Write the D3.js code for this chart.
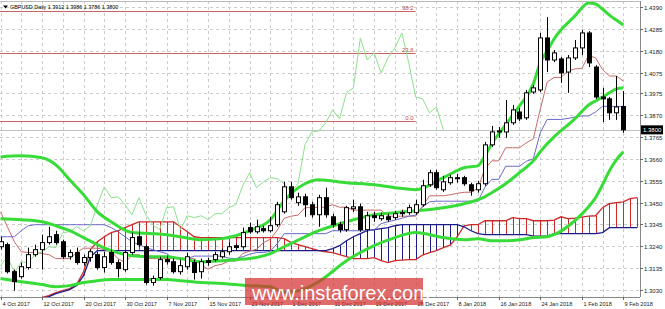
<!DOCTYPE html>
<html>
<head>
<meta charset="utf-8">
<script src="https://cdn.jsdelivr.net/npm/d3@7"></script>
<style>
  html, body { margin: 0; padding: 0; background: #fff; }
  svg { display: block; }
  .tick-label { font-family: "Liberation Sans", Arial, sans-serif; font-size: 6px; fill: #222; }
</style>
</head>
<body>
<div id="chart"></div>
<script>
// GBPUSD Daily - candles, Bollinger bands, Ichimoku, Fibonacci

const dates = ['4 Oct 2017','5 Oct','6 Oct','9 Oct','10 Oct','11 Oct','12 Oct 2017','13 Oct','16 Oct','17 Oct','18 Oct','19 Oct',
  '20 Oct 2017','23 Oct','24 Oct','25 Oct','26 Oct','27 Oct','30 Oct 2017','31 Oct','1 Nov','2 Nov','3 Nov','6 Nov',
  '7 Nov 2017','8 Nov','9 Nov','10 Nov','13 Nov','14 Nov','15 Nov 2017','16 Nov','17 Nov','20 Nov','21 Nov','22 Nov',
  '23 Nov 2017','24 Nov','27 Nov','28 Nov','29 Nov','30 Nov','1 Dec 2017','4 Dec','5 Dec','6 Dec','7 Dec','8 Dec',
  '11 Dec 2017','12 Dec','13 Dec','14 Dec','15 Dec','18 Dec','19 Dec 2017','20 Dec','21 Dec','22 Dec','26 Dec','27 Dec',
  '28 Dec 2017','29 Dec','2 Jan','3 Jan','4 Jan','5 Jan','8 Jan 2018','9 Jan','10 Jan','11 Jan','12 Jan','15 Jan',
  '16 Jan 2018','17 Jan','18 Jan','19 Jan','22 Jan','23 Jan','24 Jan 2018','25 Jan','26 Jan','29 Jan','30 Jan','31 Jan',
  '1 Feb 2018','2 Feb','5 Feb','6 Feb','7 Feb','8 Feb','9 Feb 2018'];

const openP = [1.3238,1.3248,1.3118,1.3094,1.3138,1.3200,1.3224,1.3258,1.3296,1.3262,1.3190,1.3210,1.3162,1.3186,1.3200,1.3138,
  1.3210,1.3162,1.3128,1.3210,1.3286,1.3238,1.3066,1.3090,1.3176,1.3166,1.3118,1.3142,1.3162,1.3118,1.3171,1.3176,1.3190,1.3214,
  1.3243,1.3238,1.3330,1.3310,1.3325,1.3315,1.3344,1.3406,1.3526,1.3450,1.3478,1.3440,1.3392,1.3474,1.3382,1.3344,1.3320,1.3421,
  1.3430,1.3320,1.3387,1.3373,1.3382,1.3378,1.3402,1.3402,1.3402,1.3440,1.3536,1.3594,1.3512,1.3546,1.3570,1.3570,1.3536,1.3512,
  1.3541,1.3728,1.3790,1.3790,1.3834,1.3886,1.3858,1.3982,1.3992,1.4242,1.4136,1.4141,1.4078,1.4146,1.4194,1.4266,1.4102,1.3958,
  1.3949,1.3882,1.3912];
const highP = [1.3286,1.3258,1.3128,1.3162,1.3234,1.3248,1.3296,1.3334,1.3315,1.3272,1.3224,1.3234,1.3200,1.3224,1.3214,1.3214,
  1.3224,1.3176,1.3224,1.3306,1.3310,1.3248,1.3099,1.3190,1.3195,1.3181,1.3176,1.3210,1.3176,1.3181,1.3186,1.3214,1.3229,1.3258,
  1.3253,1.3330,1.3354,1.3368,1.3339,1.3382,1.3454,1.3550,1.3550,1.3498,1.3493,1.3454,1.3488,1.3522,1.3397,1.3358,1.3435,1.3464,
  1.3445,1.3406,1.3406,1.3402,1.3397,1.3411,1.3416,1.3440,1.3464,1.3560,1.3608,1.3608,1.3579,1.3584,1.3589,1.3579,1.3546,1.3555,
  1.3742,1.3819,1.3814,1.3944,1.3920,1.3906,1.3992,1.4016,1.4266,1.4342,1.4184,1.4150,1.4160,1.4232,1.4280,1.4275,1.4112,1.4002,
  1.3958,1.4059,1.3986];
const lowP = [1.3224,1.3109,1.3027,1.3085,1.3128,1.3190,1.3128,1.3248,1.3248,1.3181,1.3176,1.3152,1.3147,1.3166,1.3128,1.3114,
  1.3152,1.3090,1.3118,1.3200,1.3238,1.3056,1.3051,1.3080,1.3152,1.3109,1.3104,1.3128,1.3080,1.3085,1.3147,1.3166,1.3181,1.3200,
  1.3219,1.3229,1.3301,1.3301,1.3306,1.3306,1.3334,1.3397,1.3464,1.3435,1.3382,1.3378,1.3334,1.3378,1.3330,1.3306,1.3310,1.3406,
  1.3310,1.3306,1.3358,1.3363,1.3358,1.3368,1.3382,1.3392,1.3392,1.3430,1.3526,1.3512,1.3502,1.3536,1.3546,1.3531,1.3483,1.3498,
  1.3531,1.3718,1.3762,1.3762,1.3824,1.3843,1.3848,1.3973,1.3982,1.4078,1.4126,1.4026,1.3978,1.4136,1.4160,1.4102,1.3949,1.3838,
  1.3848,1.3848,1.3786];
const closeP = [1.3262,1.3118,1.3070,1.3142,1.3200,1.3224,1.3258,1.3286,1.3258,1.3190,1.3210,1.3162,1.3186,1.3214,1.3138,1.3190,
  1.3162,1.3133,1.3210,1.3282,1.3248,1.3066,1.3085,1.3176,1.3166,1.3118,1.3147,1.3190,1.3114,1.3166,1.3162,1.3200,1.3214,1.3238,
  1.3234,1.3306,1.3310,1.3334,1.3315,1.3339,1.3440,1.3526,1.3474,1.3478,1.3440,1.3392,1.3474,1.3392,1.3344,1.3320,1.3426,1.3430,
  1.3320,1.3387,1.3378,1.3387,1.3368,1.3397,1.3397,1.3426,1.3440,1.3531,1.3594,1.3522,1.3550,1.3570,1.3565,1.3541,1.3507,1.3541,
  1.3728,1.3790,1.3795,1.3834,1.3896,1.3853,1.3978,1.4002,1.4242,1.4136,1.4170,1.4074,1.4146,1.4194,1.4266,1.4122,1.3958,1.3949,
  1.3882,1.3910,1.3800];

// Ichimoku lines, one value per bar
const tenkan = [1.3406,1.3334,1.3262,1.3214,1.3210,1.3210,1.3205,1.3200,1.3181,1.3181,1.3181,1.3210,1.3231,1.3231,1.3231,1.3224,
  1.3214,1.3181,1.3162,1.3198,1.3200,1.3183,1.3181,1.3181,1.3181,1.3181,1.3181,1.3181,1.3181,1.3150,1.3130,1.3147,1.3154,1.3169,
  1.3169,1.3205,1.3217,1.3226,1.3258,1.3274,1.3318,1.3375,1.3385,1.3390,1.3426,1.3426,1.3428,1.3428,1.3440,1.3428,1.3428,1.3414,
  1.3414,1.3414,1.3414,1.3414,1.3385,1.3385,1.3385,1.3385,1.3385,1.3433,1.3483,1.3483,1.3483,1.3488,1.3495,1.3500,1.3500,1.3519,
  1.3613,1.3651,1.3651,1.3714,1.3714,1.3714,1.3738,1.3757,1.3898,1.4030,1.4052,1.4052,1.4083,1.4093,1.4095,1.4158,1.4146,1.4090,
  1.4059,1.4059,1.4035];
const kijun = [1.3286,1.3286,1.3286,1.3315,1.3339,1.3344,1.3344,1.3344,1.3344,1.3344,1.3344,1.3344,1.3344,1.3344,1.3344,1.3344,
  1.3330,1.3310,1.3286,1.3262,1.3248,1.3234,1.3224,1.3214,1.3205,1.3181,1.3181,1.3181,1.3193,1.3193,1.3193,1.3193,1.3193,1.3183,
  1.3181,1.3190,1.3202,1.3210,1.3210,1.3217,1.3253,1.3301,1.3301,1.3301,1.3301,1.3301,1.3301,1.3301,1.3315,1.3315,1.3315,1.3315,
  1.3315,1.3315,1.3318,1.3349,1.3358,1.3366,1.3375,1.3385,1.3390,1.3430,1.3454,1.3457,1.3457,1.3457,1.3457,1.3457,1.3457,1.3457,
  1.3524,1.3562,1.3562,1.3625,1.3625,1.3625,1.3649,1.3661,1.3786,1.3850,1.3850,1.3850,1.3855,1.3862,1.3867,1.3867,1.3886,1.3913,
  1.3913,1.3913,1.3913];
// cloud, bars 6..92 (runs two bars past the last candle)
const cloudStart = 6;
const senkouA = [1.2994,1.3003,1.3018,1.3027,1.3037,1.3056,1.3118,1.3224,1.3262,1.3286,1.3306,1.3315,1.3330,1.3344,1.3358,1.3358,
  1.3358,1.3358,1.3358,1.3358,1.3334,1.3310,1.3286,1.3282,1.3282,1.3282,1.3282,1.3282,1.3282,1.3282,1.3282,1.3282,1.3282,1.3282,
  1.3282,1.3277,1.3258,1.3248,1.3238,1.3229,1.3219,1.3214,1.3210,1.3200,1.3190,1.3181,1.3181,1.3181,1.3186,1.3171,1.3162,1.3171,
  1.3174,1.3176,1.3176,1.3198,1.3210,1.3219,1.3234,1.3246,1.3286,1.3339,1.3344,1.3344,1.3363,1.3363,1.3363,1.3363,1.3378,1.3373,
  1.3373,1.3363,1.3363,1.3363,1.3366,1.3382,1.3373,1.3375,1.3380,1.3385,1.3387,1.3426,1.3445,1.3450,1.3454,1.3469,1.3474];
const senkouB = [1.2989,1.2998,1.3013,1.3022,1.3032,1.3051,1.3099,1.3190,1.3219,1.3219,1.3219,1.3219,1.3219,1.3219,1.3219,1.3219,
  1.3219,1.3219,1.3219,1.3219,1.3219,1.3219,1.3219,1.3219,1.3219,1.3219,1.3219,1.3219,1.3219,1.3219,1.3219,1.3219,1.3219,1.3219,
  1.3219,1.3219,1.3219,1.3219,1.3219,1.3219,1.3219,1.3219,1.3229,1.3243,1.3267,1.3286,1.3301,1.3315,1.3320,1.3325,1.3330,1.3339,
  1.3344,1.3344,1.3344,1.3344,1.3344,1.3344,1.3344,1.3344,1.3344,1.3334,1.3315,1.3301,1.3296,1.3296,1.3296,1.3296,1.3296,1.3296,
  1.3296,1.3289,1.3289,1.3289,1.3301,1.3301,1.3301,1.3301,1.3301,1.3301,1.3301,1.3306,1.3330,1.3330,1.3330,1.3330,1.3330];

// Bollinger bands (20, 2), [bar, price]
const bbUpper = [[0,1.3670],[3,1.3675],[6,1.3666],[8,1.3632],[10,1.3560],[12,1.3488],[14,1.3406],[16,1.3358],[19,1.3306],
  [22,1.3301],[24,1.3296],[26,1.3286],[29,1.3272],[32,1.3277],[34,1.3291],[36,1.3315],[39,1.3368],[41,1.3459],[44,1.3541],
  [46,1.3560],[50,1.3546],[54,1.3536],[57,1.3522],[60,1.3512],[64,1.3570],[67,1.3618],[69,1.3627],[70,1.3675],[71,1.3733],
  [73,1.3824],[75,1.3915],[77,1.4021],[78,1.4122],[79,1.4179],[80,1.4237],[83,1.4347],[85,1.4410],[86,1.4405],[87,1.4381],
  [88,1.4352],[89,1.4328],[90,1.4304]];
const bbMiddle = [[0,1.3373],[3,1.3368],[6,1.3358],[8,1.3339],[10,1.3315],[12,1.3282],[14,1.3248],[16,1.3219],[19,1.3195],
  [22,1.3190],[24,1.3190],[26,1.3181],[29,1.3166],[32,1.3171],[34,1.3176],[36,1.3181],[39,1.3205],[41,1.3238],[44,1.3286],
  [46,1.3315],[50,1.3358],[54,1.3392],[57,1.3402],[60,1.3411],[64,1.3426],[67,1.3445],[69,1.3464],[70,1.3478],[71,1.3498],
  [73,1.3541],[75,1.3594],[77,1.3651],[78,1.3694],[79,1.3733],[80,1.3766],[83,1.3853],[85,1.3920],[86,1.3939],[87,1.3958],
  [88,1.3978],[89,1.3997],[90,1.4002]];
const bbLower = [[0,1.3085],[3,1.3070],[6,1.3056],[8,1.3046],[10,1.3051],[12,1.3066],[14,1.3075],[16,1.3080],[19,1.3080],
  [22,1.3080],[24,1.3080],[26,1.3075],[29,1.3066],[32,1.3061],[34,1.3056],[36,1.3051],[39,1.3046],[41,1.3018],[44,1.3037],
  [46,1.3070],[50,1.3171],[54,1.3243],[57,1.3282],[60,1.3306],[64,1.3282],[67,1.3272],[69,1.3277],[71,1.3267],
  [73,1.3267],[75,1.3272],[77,1.3282],[79,1.3286],[80,1.3296],[83,1.3363],[85,1.3430],[86,1.3474],[87,1.3536],
  [88,1.3603],[89,1.3656],[90,1.3694]];

const fibLevels = [{ label: '38.2', price: 1.4372 }, { label: '23.6', price: 1.4170 }, { label: '0.0', price: 1.3843 }];
const fibEndBar = 60;

const priceTicks = [1.4390,1.4285,1.4180,1.4075,1.3975,1.3870,1.3765,1.3660,1.3555,1.3450,1.3345,1.3240,1.3135,1.3030];
const labelBars = [0,6,12,18,24,30,36,42,48,54,60,66,72,78,84,90];
const gridStep = 3;
const chikouShift = 26;
const lastPrice = 1.3800;
const titleText = 'GBPUSD,Daily  1.3912 1.3986 1.3786 1.3800';

const width = 665, height = 309;
const plot = { left: 0, right: 640, top: 1, bottom: 297 };

const svg = d3.select('#chart').append('svg')
  .attr('width', width)
  .attr('height', height)
  .style('font-family', '"Liberation Sans", Arial, sans-serif');

const x = d3.scaleLinear().domain([0, 92]).range([0.5, 637.1]);
const y = d3.scaleLinear().domain([1.3030, 1.4285]).range([290, 29]);

svg.append('defs').append('clipPath').attr('id', 'plotclip')
  .append('rect')
  .attr('x', plot.left).attr('y', plot.top)
  .attr('width', plot.right - plot.left).attr('height', plot.bottom - plot.top);

// grid
const grid = svg.append('g').attr('stroke', '#cccccc').attr('stroke-dasharray', '3,3').attr('shape-rendering', 'crispEdges');
priceTicks.forEach(p => {
  const yy = Math.round(y(p)) + 0.5;
  grid.append('line').attr('x1', plot.left).attr('x2', plot.right).attr('y1', yy).attr('y2', yy);
});
d3.range(0, 91, gridStep).forEach(b => {
  const xx = Math.round(x(b)) + 0.5;
  grid.append('line').attr('x1', xx).attr('x2', xx).attr('y1', plot.top).attr('y2', plot.bottom);
});

const g = svg.append('g').attr('clip-path', 'url(#plotclip)');

// fibonacci
fibLevels.forEach(f => {
  const yy = Math.round(y(f.price)) + 0.5;
  g.append('line')
    .attr('x1', plot.left).attr('x2', x(fibEndBar))
    .attr('y1', yy).attr('y2', yy)
    .attr('stroke', '#cc6464').attr('stroke-width', 1);
  g.append('text')
    .attr('x', x(fibEndBar) - 2).attr('y', yy - 2)
    .attr('text-anchor', 'end')
    .attr('font-size', 6)
    .attr('fill', '#c04848')
    .text(f.label);
});

// current price line
g.append('line')
  .attr('x1', plot.left).attr('x2', plot.right)
  .attr('y1', Math.round(y(lastPrice)) + 0.5).attr('y2', Math.round(y(lastPrice)) + 0.5)
  .attr('stroke', '#c0c0c0');

// cloud hatch
const cloud = senkouA.map((a, k) => ({ i: cloudStart + k, a, b: senkouB[k] }));
g.selectAll('.hatch')
  .data(cloud)
  .enter()
  .append('line')
  .attr('class', 'hatch')
  .attr('x1', d => Math.round(x(d.i)) + 0.5).attr('x2', d => Math.round(x(d.i)) + 0.5)
  .attr('y1', d => y(d.a)).attr('y2', d => y(d.b))
  .attr('stroke', d => d.a >= d.b ? '#cc2a2a' : '#1c1c88')
  .attr('stroke-width', 1);

const lineOf = accessor => d3.line().x(d => x(d.i)).y(d => y(accessor(d)));
g.append('path').datum(cloud).attr('d', lineOf(d => d.a))
  .attr('fill', 'none').attr('stroke', '#cc2a2a').attr('stroke-width', 1.3);
g.append('path').datum(cloud).attr('d', lineOf(d => d.b))
  .attr('fill', 'none').attr('stroke', '#1c1c88').attr('stroke-width', 1.3);

// tenkan / kijun
const bars = closeP.map((c, i) => ({ i, o: openP[i], h: highP[i], l: lowP[i], c, tk: tenkan[i], kj: kijun[i] }));
g.append('path').datum(bars).attr('d', lineOf(d => d.tk))
  .attr('fill', 'none').attr('stroke', '#c86a6a').attr('stroke-width', 1);
g.append('path').datum(bars).attr('d', lineOf(d => d.kj))
  .attr('fill', 'none').attr('stroke', '#6a6ac8').attr('stroke-width', 1);

// chikou = close drawn 26 bars back
const chikou = bars.filter(d => d.i >= chikouShift).map(d => ({ i: d.i - chikouShift, v: d.c }));
g.append('path').datum(chikou).attr('d', lineOf(d => d.v))
  .attr('fill', 'none').attr('stroke', '#8ee08e').attr('stroke-width', 1);

// bollinger
const bbLine = d3.line().x(d => x(d[0])).y(d => y(d[1])).curve(d3.curveMonotoneX);
[bbUpper, bbMiddle, bbLower].forEach(series => {
  g.append('path').datum(series).attr('d', bbLine)
    .attr('fill', 'none').attr('stroke', '#38dc38').attr('stroke-width', 3)
    .attr('stroke-linejoin', 'round');
});

// candles
const candle = g.selectAll('.candle').data(bars).enter().append('g').attr('class', 'candle');
candle.append('line')
  .attr('x1', d => Math.round(x(d.i)) + 0.5).attr('x2', d => Math.round(x(d.i)) + 0.5)
  .attr('y1', d => y(d.h)).attr('y2', d => y(d.l))
  .attr('stroke', '#000').attr('stroke-width', 1);
candle.append('rect')
  .attr('x', d => Math.round(x(d.i)) - 1.5)
  .attr('y', d => y(Math.max(d.o, d.c)))
  .attr('width', 4)
  .attr('height', d => Math.max(1, Math.abs(y(d.o) - y(d.c))))
  .attr('fill', d => d.c >= d.o ? '#fff' : '#000')
  .attr('stroke', '#000').attr('stroke-width', 1);

// axes frame
svg.append('line').attr('x1', plot.right + 0.5).attr('x2', plot.right + 0.5).attr('y1', plot.top).attr('y2', plot.bottom)
  .attr('stroke', '#888');
svg.append('line').attr('x1', plot.left).attr('x2', plot.right).attr('y1', plot.bottom + 0.5).attr('y2', plot.bottom + 0.5)
  .attr('stroke', '#888');
svg.append('line').attr('x1', plot.left).attr('x2', plot.right).attr('y1', plot.top + 0.5).attr('y2', plot.top + 0.5)
  .attr('stroke', '#bbb');

// price axis
const yAxis = svg.append('g');
priceTicks.forEach(p => {
  const yy = Math.round(y(p)) + 0.5;
  yAxis.append('line').attr('x1', plot.right).attr('x2', plot.right + 3).attr('y1', yy).attr('y2', yy).attr('stroke', '#666');
  yAxis.append('text').attr('class', 'tick-label').attr('x', plot.right + 4).attr('y', yy + 2).text(p.toFixed(4));
});
const ly = y(lastPrice);
yAxis.append('rect').attr('x', plot.right + 1).attr('y', ly - 4.5).attr('width', 22).attr('height', 9).attr('fill', '#000');
yAxis.append('text').attr('class', 'tick-label').attr('x', plot.right + 3).attr('y', ly + 2)
  .style('fill', '#fff').text(lastPrice.toFixed(4));

// date axis
const xAxis = svg.append('g');
labelBars.forEach(b => {
  const xx = Math.round(x(b)) + 0.5;
  xAxis.append('line').attr('x1', xx).attr('x2', xx).attr('y1', plot.bottom).attr('y2', plot.bottom + 3).attr('stroke', '#666');
  xAxis.append('text').attr('class', 'tick-label').attr('x', xx + 1).attr('y', 305.5)
    .style('font-size', '5.6px').text(dates[b]);
});

// title
svg.append('path').attr('d', 'M3,5.5 L8,5.5 L5.5,8.5 Z').attr('fill', '#000');
svg.append('text').attr('class', 'tick-label').attr('x', 10).attr('y', 8.5)
  .style('font-size', '5.4px').style('fill', '#000').text(titleText);

// watermark
svg.append('rect').attr('x', 245).attr('y', 278).attr('width', 178).attr('height', 27)
  .attr('fill', 'rgb(214,48,48)').attr('opacity', 0.72);
svg.append('text').attr('x', 252).attr('y', 299.5)
  .attr('font-family', '"Liberation Sans", Arial, sans-serif').attr('font-size', 20)
  .attr('fill', '#fff').text('www.instaforex.com');
</script>
</body>
</html>
